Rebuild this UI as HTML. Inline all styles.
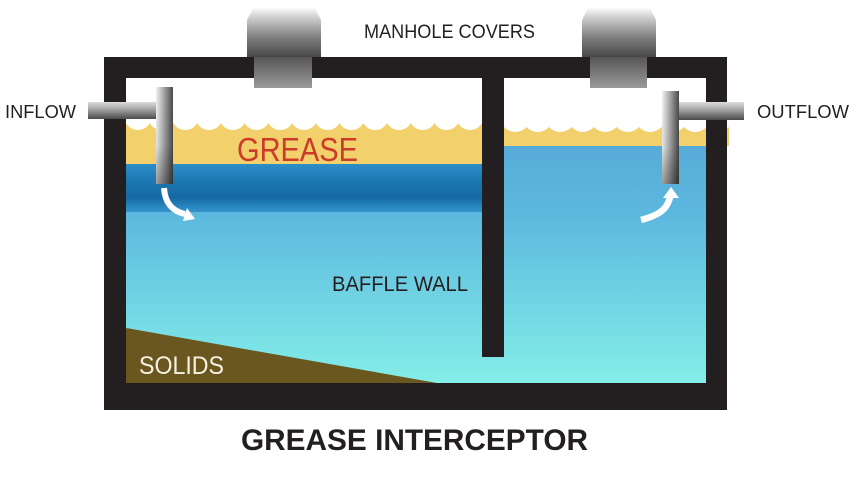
<!DOCTYPE html>
<html><head><meta charset="utf-8"><style>
html,body{margin:0;padding:0;background:#fff;}
svg{display:block;}
text{font-family:"Liberation Sans",sans-serif;}
</style></head><body>
<svg width="857" height="481" viewBox="0 0 857 481" xmlns="http://www.w3.org/2000/svg">
<defs>
<linearGradient id="water" gradientUnits="userSpaceOnUse" x1="0" y1="146" x2="0" y2="383">
<stop offset="0" stop-color="#57acd7"/>
<stop offset="0.28" stop-color="#5cb7de"/>
<stop offset="1" stop-color="#84eee8"/>
</linearGradient>
<linearGradient id="dark" x1="0" y1="0" x2="0" y2="1">
<stop offset="0" stop-color="#2e8fc8"/>
<stop offset="0.35" stop-color="#1e78b2"/>
<stop offset="0.7" stop-color="#166aa3"/>
<stop offset="1" stop-color="#3496ce"/>
</linearGradient>
<linearGradient id="hpipe" x1="0" y1="0" x2="0" y2="1">
<stop offset="0" stop-color="#dcdcdc"/>
<stop offset="0.4" stop-color="#a8a8a8"/>
<stop offset="1" stop-color="#4a4a4a"/>
</linearGradient>
<linearGradient id="vpipe" x1="0" y1="0" x2="1" y2="0">
<stop offset="0" stop-color="#f2f2f2"/>
<stop offset="0.45" stop-color="#a9a9a9"/>
<stop offset="1" stop-color="#4a4a4a"/>
</linearGradient>
<linearGradient id="vshade" x1="0" y1="0" x2="0" y2="1">
<stop offset="0" stop-color="#000" stop-opacity="0"/>
<stop offset="0.6" stop-color="#000" stop-opacity="0.05"/>
<stop offset="1" stop-color="#000" stop-opacity="0.35"/>
</linearGradient>
<linearGradient id="cover" x1="0" y1="0" x2="0" y2="1">
<stop offset="0" stop-color="#fbfbfb"/>
<stop offset="0.15" stop-color="#d8d8d8"/>
<stop offset="0.6" stop-color="#7e7e7e"/>
<stop offset="1" stop-color="#484848"/>
</linearGradient>
<linearGradient id="neck" x1="0" y1="0" x2="0" y2="1">
<stop offset="0" stop-color="#565656"/>
<stop offset="1" stop-color="#9a9a9a"/>
</linearGradient>
</defs>

<!-- water fills -->
<rect x="126" y="146" width="580" height="237" fill="url(#water)"/>
<rect x="126" y="163" width="356" height="49" fill="url(#dark)"/>

<!-- grease left -->
<path fill="#f2d06c" d="M126,164 L126,123 a13.5,13.5 0 0 0 23.73,0 a13.5,13.5 0 0 0 23.73,0 a13.5,13.5 0 0 0 23.73,0 a13.5,13.5 0 0 0 23.73,0 a13.5,13.5 0 0 0 23.73,0 a13.5,13.5 0 0 0 23.73,0 a13.5,13.5 0 0 0 23.73,0 a13.5,13.5 0 0 0 23.73,0 a13.5,13.5 0 0 0 23.73,0 a13.5,13.5 0 0 0 23.73,0 a13.5,13.5 0 0 0 23.73,0 a13.5,13.5 0 0 0 23.73,0 a13.5,13.5 0 0 0 23.73,0 a13.5,13.5 0 0 0 23.73,0 a13.5,13.5 0 0 0 23.73,0 L482,164 Z"/>
<!-- grease right -->
<path fill="#f2d06c" d="M504,146 L504,127 a15.2,15.2 0 0 0 22.5,0 a15.2,15.2 0 0 0 22.5,0 a15.2,15.2 0 0 0 22.5,0 a15.2,15.2 0 0 0 22.5,0 a15.2,15.2 0 0 0 22.5,0 a15.2,15.2 0 0 0 22.5,0 a15.2,15.2 0 0 0 22.5,0 a15.2,15.2 0 0 0 22.5,0 a15.2,15.2 0 0 0 22.5,0 a15.2,15.2 0 0 0 22.5,0 L729,146 Z"/>

<!-- solids -->
<polygon points="126,328 437,383 126,383" fill="#6a5720"/>

<!-- tank -->
<path fill="#231f20" fill-rule="evenodd" d="M104,57 H727 V410 H104 Z M126,78 V383 H706 V78 Z"/>
<rect x="482" y="57" width="22" height="300" fill="#231f20"/>

<!-- manhole covers -->
<path d="M253,8 H315 L321,20 V57 H247 V20 Z" fill="url(#cover)"/>
<rect x="254" y="57" width="58" height="31" fill="url(#neck)"/>
<path d="M588,8 H650 L656,20 V57 H582 V20 Z" fill="url(#cover)"/>
<rect x="590" y="57" width="57" height="31" fill="url(#neck)"/>

<!-- inflow pipe -->
<rect x="88" y="102" width="68" height="17" fill="url(#hpipe)"/>
<rect x="156" y="87" width="17" height="97" fill="url(#vpipe)"/>
<rect x="156" y="87" width="17" height="97" fill="url(#vshade)"/>
<!-- outflow pipe -->
<rect x="679" y="102" width="65" height="18" fill="url(#hpipe)"/>
<rect x="662" y="91" width="17" height="93" fill="url(#vpipe)"/>
<rect x="662" y="91" width="17" height="93" fill="url(#vshade)"/>

<!-- arrows -->
<path d="M164,188 C165,203 172,211 185,214" fill="none" stroke="#fff" stroke-width="6"/>
<polygon points="195,219 183,221 187,208" fill="#fff"/>
<path d="M641,220 C656,216 667,211 670,197" fill="none" stroke="#fff" stroke-width="6.5"/>
<polygon points="671,187 663,198 679,198" fill="#fff"/>

<!-- labels -->
<text x="364" y="38" font-size="19" fill="#231f20" textLength="171" lengthAdjust="spacingAndGlyphs">MANHOLE COVERS</text>
<text x="5" y="118" font-size="18" fill="#231f20" textLength="71" lengthAdjust="spacingAndGlyphs">INFLOW</text>
<text x="757" y="118" font-size="18" fill="#231f20" textLength="92" lengthAdjust="spacingAndGlyphs">OUTFLOW</text>
<text x="237" y="161" font-size="33" fill="#cc3a2a" textLength="121" lengthAdjust="spacingAndGlyphs">GREASE</text>
<text x="332" y="291" font-size="21" fill="#231f20" textLength="136" lengthAdjust="spacingAndGlyphs">BAFFLE WALL</text>
<text x="139" y="374" font-size="25" fill="#f6f1e2" textLength="85" lengthAdjust="spacingAndGlyphs">SOLIDS</text>
<text x="241" y="450" font-size="30" font-weight="bold" fill="#231f20" textLength="347" lengthAdjust="spacingAndGlyphs">GREASE INTERCEPTOR</text>
</svg>
</body></html>
